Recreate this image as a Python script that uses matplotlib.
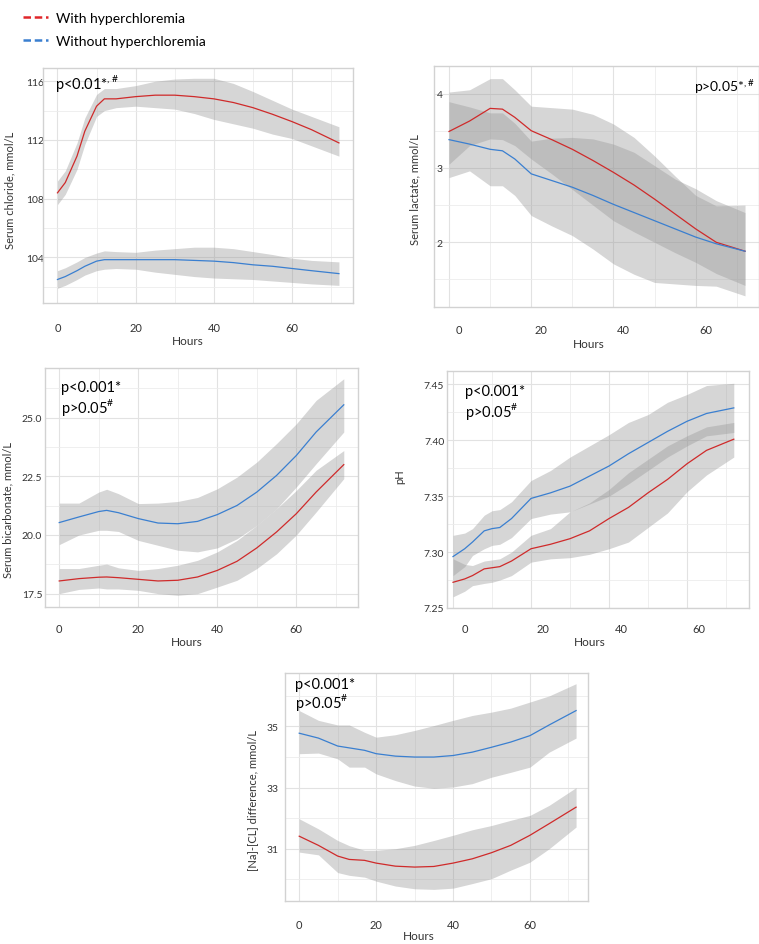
import matplotlib
matplotlib.use("Agg")
import matplotlib.pyplot as plt
import matplotlib.transforms as mtransforms
from matplotlib.lines import Line2D
from matplotlib.ticker import MultipleLocator

plt.rcParams['font.family'] = ['Lato', 'DejaVu Sans']
plt.rcParams['mathtext.fontset'] = 'custom'
plt.rcParams['mathtext.rm'] = 'Lato'

# ---------------- data ----------------
series_labels = ["With hyperchloremia", "Without hyperchloremia"]

# Serum chloride
cl_hours = [0, 2, 5, 7, 10, 12, 15, 20, 25, 30, 35, 40, 45, 50, 55, 60, 65, 72]
cl_red = [108.4, 109.1, 110.9, 112.6, 114.3, 114.8, 114.8, 114.95, 115.05, 115.05, 114.95, 114.8, 114.55, 114.2, 113.75, 113.25, 112.7, 111.8]
cl_red_hi = [109.2, 109.9, 111.8, 113.5, 115.1, 115.5, 115.5, 115.7, 116.0, 116.15, 116.2, 116.2, 115.85, 115.3, 114.7, 114.1, 113.6, 112.9]
cl_red_lo = [107.6, 108.3, 110.0, 111.7, 113.6, 114.0, 114.2, 114.3, 114.2, 114.1, 113.8, 113.4, 113.1, 112.8, 112.4, 112.1, 111.6, 110.9]
cl_blue = [102.5, 102.7, 103.1, 103.4, 103.75, 103.85, 103.85, 103.85, 103.85, 103.85, 103.8, 103.75, 103.65, 103.5, 103.4, 103.25, 103.1, 102.9]
cl_blue_hi = [103.1, 103.3, 103.7, 104.0, 104.3, 104.45, 104.4, 104.35, 104.5, 104.6, 104.7, 104.7, 104.6, 104.4, 104.2, 103.95, 103.8, 103.7]
cl_blue_lo = [101.9, 102.1, 102.5, 102.8, 103.1, 103.2, 103.25, 103.2, 103.0, 102.85, 102.7, 102.6, 102.55, 102.5, 102.4, 102.3, 102.2, 102.1]

# Serum lactate
lac_hours = [0, 5, 10, 13, 16, 20, 25, 30, 35, 40, 45, 50, 55, 60, 65, 72]
lac_red = [3.49, 3.63, 3.80, 3.79, 3.68, 3.50, 3.38, 3.25, 3.10, 2.94, 2.77, 2.58, 2.38, 2.18, 2.00, 1.88]
lac_red_hi = [4.02, 4.05, 4.20, 4.20, 4.05, 3.83, 3.81, 3.79, 3.72, 3.59, 3.41, 3.16, 2.89, 2.63, 2.49, 2.50]
lac_red_lo = [3.05, 3.30, 3.39, 3.38, 3.30, 3.12, 2.92, 2.71, 2.50, 2.29, 2.14, 2.00, 1.86, 1.73, 1.58, 1.42]
lac_blue = [3.38, 3.32, 3.25, 3.23, 3.12, 2.92, 2.83, 2.74, 2.63, 2.51, 2.40, 2.29, 2.18, 2.07, 1.98, 1.88]
lac_blue_hi = [3.89, 3.82, 3.74, 3.74, 3.60, 3.36, 3.40, 3.41, 3.39, 3.32, 3.21, 3.03, 2.85, 2.72, 2.56, 2.40]
lac_blue_lo = [2.87, 2.96, 2.76, 2.76, 2.63, 2.36, 2.22, 2.09, 1.91, 1.71, 1.57, 1.46, 1.44, 1.42, 1.41, 1.28]

# Serum bicarbonate
bic_hours = [0, 5, 10, 12, 15, 20, 25, 30, 35, 40, 45, 50, 55, 60, 65, 72]
bic_blue = [20.53, 20.77, 21.0, 21.05, 20.95, 20.70, 20.51, 20.48, 20.58, 20.87, 21.26, 21.83, 22.54, 23.39, 24.39, 25.55]
bic_blue_hi = [21.36, 21.36, 21.83, 21.95, 21.76, 21.34, 21.36, 21.43, 21.6, 21.97, 22.47, 23.11, 23.9, 24.74, 25.74, 26.66]
bic_blue_lo = [19.59, 20.0, 20.2, 20.2, 20.15, 19.77, 19.56, 19.35, 19.28, 19.45, 19.84, 20.41, 21.12, 22.05, 23.04, 24.39]
bic_red = [18.04, 18.14, 18.2, 18.21, 18.18, 18.11, 18.04, 18.07, 18.21, 18.49, 18.88, 19.45, 20.13, 20.91, 21.83, 23.0]
bic_red_hi = [18.57, 18.57, 18.71, 18.76, 18.6, 18.49, 18.57, 18.71, 18.92, 19.28, 19.77, 20.41, 21.12, 21.9, 22.76, 23.6]
bic_red_lo = [17.5, 17.68, 17.74, 17.7, 17.7, 17.64, 17.5, 17.43, 17.5, 17.78, 18.07, 18.57, 19.2, 20.0, 20.98, 22.4]

# pH
ph_hours = [0, 3, 5, 8, 10, 12, 15, 20, 25, 30, 35, 40, 45, 50, 55, 60, 65, 72]
ph_blue = [7.296, 7.303, 7.309, 7.319, 7.321, 7.322, 7.330, 7.348, 7.353, 7.359, 7.368, 7.377, 7.388, 7.398, 7.408, 7.417, 7.424, 7.429]
ph_blue_hi = [7.315, 7.317, 7.321, 7.333, 7.337, 7.338, 7.345, 7.364, 7.373, 7.385, 7.395, 7.405, 7.416, 7.423, 7.434, 7.441, 7.449, 7.451]
ph_blue_lo = [7.279, 7.287, 7.297, 7.303, 7.306, 7.307, 7.313, 7.330, 7.334, 7.336, 7.343, 7.350, 7.361, 7.373, 7.385, 7.395, 7.404, 7.407]
ph_red = [7.273, 7.276, 7.279, 7.285, 7.286, 7.287, 7.292, 7.303, 7.307, 7.312, 7.319, 7.330, 7.340, 7.353, 7.365, 7.379, 7.391, 7.401]
ph_red_hi = [7.294, 7.289, 7.288, 7.292, 7.293, 7.294, 7.300, 7.315, 7.321, 7.336, 7.344, 7.356, 7.371, 7.383, 7.395, 7.404, 7.412, 7.416]
ph_red_lo = [7.260, 7.265, 7.270, 7.272, 7.273, 7.275, 7.279, 7.291, 7.294, 7.295, 7.298, 7.303, 7.309, 7.322, 7.335, 7.354, 7.369, 7.385]

# [Na]-[Cl] difference
nacl_hours = [0, 5, 10, 13, 17, 20, 25, 30, 35, 40, 45, 50, 55, 60, 65, 72]
nacl_blue = [34.78, 34.62, 34.36, 34.30, 34.22, 34.11, 34.03, 34.0, 34.0, 34.05, 34.16, 34.32, 34.49, 34.70, 35.05, 35.52]
nacl_blue_hi = [35.52, 35.2, 35.05, 35.05, 34.81, 34.65, 34.73, 34.87, 35.03, 35.2, 35.36, 35.47, 35.6, 35.8, 36.0, 36.4]
nacl_blue_lo = [34.11, 34.13, 33.94, 33.67, 33.67, 33.45, 33.23, 33.05, 32.98, 33.02, 33.13, 33.34, 33.5, 33.67, 34.16, 34.62]
nacl_red = [31.41, 31.11, 30.76, 30.65, 30.62, 30.53, 30.43, 30.40, 30.42, 30.53, 30.67, 30.87, 31.11, 31.44, 31.82, 32.36]
nacl_red_hi = [31.98, 31.65, 31.27, 31.1, 30.95, 30.95, 31.0, 31.11, 31.27, 31.44, 31.62, 31.76, 31.93, 32.09, 32.42, 33.0]
nacl_red_lo = [30.89, 30.8, 30.22, 30.13, 30.07, 29.94, 29.78, 29.69, 29.67, 29.71, 29.86, 30.02, 30.3, 30.56, 31.0, 31.71]

# ---------------- styling ----------------
W, H = 759, 945
RED = '#cf2a2a'
BLUE = '#3a7fd0'
BAND = '#999999'
fig = plt.figure(figsize=(W / 100, H / 100), dpi=100)


def px_axes(l, t, r, b):
    return fig.add_axes([l / W, 1 - b / H, (r - l) / W, (b - t) / H])


def style(ax, xlim, ylim, yticks, ymin_step, ylabel, ylab_xy, xlab_xy, xpad, ypad,
          yfmt=None, xshift=0):
    ax.set_xlim(*xlim)
    ax.set_ylim(*ylim)
    ax.set_xticks([0, 20, 40, 60])
    ax.xaxis.set_minor_locator(MultipleLocator(10))
    ax.set_yticks(yticks)
    if yfmt:
        ax.set_yticklabels([yfmt.format(v) for v in yticks])
    ax.yaxis.set_minor_locator(MultipleLocator(ymin_step))
    ax.grid(True, which='major', color='#e2e2e2', lw=0.8)
    ax.grid(True, which='minor', color='#ececec', lw=0.6)
    ax.set_axisbelow(True)
    for s in ax.spines.values():
        s.set_color('#d2d2d2')
        s.set_linewidth(1.0)
    ax.tick_params(axis='both', which='both', length=0, labelsize=7.5, colors='#333333')
    ax.tick_params(axis='x', pad=xpad, labelsize=8)
    ax.tick_params(axis='y', pad=ypad)
    ax.set_ylabel(ylabel, fontsize=8, color='#333333')
    ax.yaxis.set_label_coords(*ylab_xy)
    ax.set_xlabel('Hours', fontsize=8.5, color='#333333')
    ax.xaxis.set_label_coords(*xlab_xy)
    if xshift:
        off = mtransforms.ScaledTranslation(xshift / 100, 0, fig.dpi_scale_trans)
        for lab in ax.get_xticklabels():
            lab.set_transform(lab.get_transform() + off)


def draw(ax, x, r, rlo, rhi, b, blo, bhi):
    ax.fill_between(x, rlo, rhi, color=BAND, alpha=0.4, lw=0, zorder=2)
    ax.fill_between(x, blo, bhi, color=BAND, alpha=0.4, lw=0, zorder=2)
    ax.plot(x, r, color=RED, lw=0.9, zorder=3)
    ax.plot(x, b, color=BLUE, lw=0.9, zorder=3)


PFS = 10.5

# Panel 1: chloride
ax1 = px_axes(43, 69, 353, 304)
draw(ax1, cl_hours, cl_red, cl_red_lo, cl_red_hi, cl_blue, cl_blue_lo, cl_blue_hi)
style(ax1, (-3.7, 75.6), (100.9, 116.9), [104, 108, 112, 116], 2,
      'Serum chloride, mmol/L', (-0.09, 0.485), (0.468, -0.135), 14, -1)
ax1.text(0.039, 0.94, r'p<0.01*$^{\mathregular{,\#}}$', transform=ax1.transAxes,
         fontsize=PFS, va='center', ha='left')

# Panel 2: lactate
ax2 = px_axes(434, 67, 759, 308)
draw(ax2, lac_hours, lac_red, lac_red_lo, lac_red_hi, lac_blue, lac_blue_lo, lac_blue_hi)
style(ax2, (-3.65, 75.4), (1.13, 4.37), [2, 3, 4], 0.5,
      'Serum lactate, mmol/L', (-0.043, 0.49), (0.477, -0.128), 12, -6, xshift=10)
ax2.text(0.988, 0.917, r'p>0.05*$^{\mathregular{,\#}}$', transform=ax2.transAxes,
         fontsize=PFS - 0.5, va='center', ha='right')

# Panel 3: bicarbonate
ax3 = px_axes(45, 369, 358, 608)
draw(ax3, bic_hours, bic_red, bic_red_lo, bic_red_hi, bic_blue, bic_blue_lo, bic_blue_hi)
style(ax3, (-3.6, 75.6), (16.93, 27.12), [17.5, 20.0, 22.5, 25.0], 1.25,
      'Serum bicarbonate, mmol/L', (-0.102, 0.41), (0.454, -0.121), 11.5, 2,
      yfmt='{:.1f}')
ax3.text(0.051, 0.92, 'p<0.001*', transform=ax3.transAxes, fontsize=PFS, va='center')
ax3.text(0.051, 0.84, r'p>0.05$^{\mathregular{\#}}$', transform=ax3.transAxes,
         fontsize=PFS, va='center')

# Panel 4: pH
ax4 = px_axes(447, 372, 749, 609)
draw(ax4, ph_hours, ph_red, ph_red_lo, ph_red_hi, ph_blue, ph_blue_lo, ph_blue_hi)
style(ax4, (-1.54, 75.9), (7.25, 7.462), [7.25, 7.30, 7.35, 7.40, 7.45], 0.025,
      'pH', (-0.139, 0.557), (0.474, -0.118), 11, 2, yfmt='{:.2f}', xshift=12)
ax4.text(0.06, 0.916, 'p<0.001*', transform=ax4.transAxes, fontsize=PFS, va='center')
ax4.text(0.06, 0.835, r'p>0.05$^{\mathregular{\#}}$', transform=ax4.transAxes,
         fontsize=PFS, va='center')

# Panel 5: [Na]-[Cl]
ax5 = px_axes(285, 674, 588, 902)
draw(ax5, nacl_hours, nacl_red, nacl_red_lo, nacl_red_hi, nacl_blue, nacl_blue_lo, nacl_blue_hi)
style(ax5, (-3.7, 75.1), (29.29, 36.75), [31, 33, 35], 1,
      '[Na]-[CL] difference, mmol/L', (-0.089, 0.447), (0.44, -0.127), 13, 5)
ax5.text(0.033, 0.952, 'p<0.001*', transform=ax5.transAxes, fontsize=PFS, va='center')
ax5.text(0.033, 0.873, r'p>0.05$^{\mathregular{\#}}$', transform=ax5.transAxes,
         fontsize=PFS, va='center')

# Legend
handles = [Line2D([], [], color='#e0262a', lw=1.8, ls=(0, (3, 1.5))),
           Line2D([], [], color='#3a7fd0', lw=1.8, ls=(0, (3, 1.5)))]
fig.legend(handles, series_labels, loc='upper left', bbox_to_anchor=(12 / W, 1 - 2 / H),
           frameon=False, fontsize=10, handlelength=1.8, handletextpad=0.6,
           labelspacing=0.75, borderpad=0.3)

fig.savefig('out.png', dpi=100)
